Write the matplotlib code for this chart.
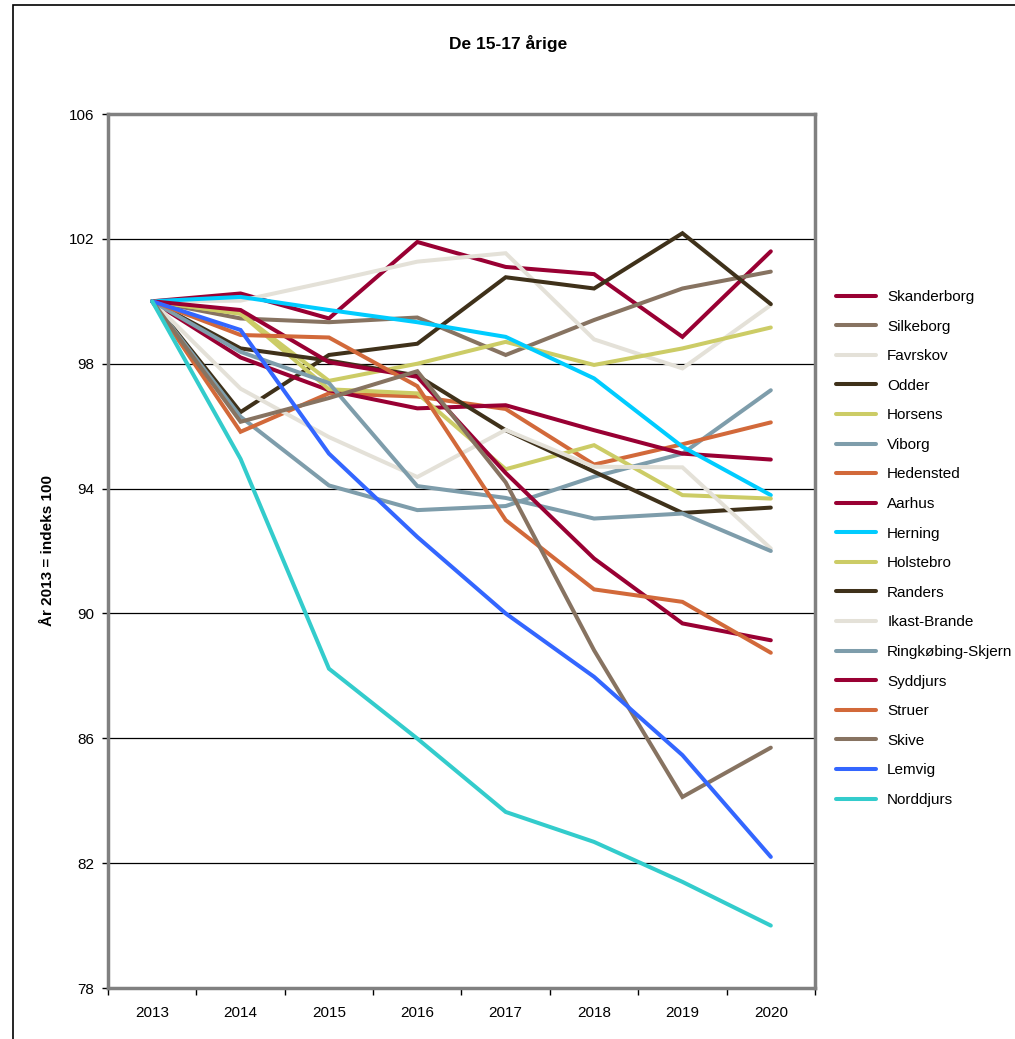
import matplotlib
matplotlib.use("Agg")
import matplotlib.pyplot as plt
import matplotlib.patches as mpatches
import numpy as np

plt.rcParams['font.family'] = ['Liberation Sans', 'DejaVu Sans']

years = ["2013", "2014", "2015", "2016", "2017", "2018", "2019", "2020"]

skanderborg = [100, 100.25, 99.45, 101.90, 101.10, 100.87, 98.86, 101.60]
silkeborg   = [100, 99.45, 99.33, 99.48, 98.28, 99.40, 100.41, 100.95]
favrskov    = [100, 100.02, 100.63, 101.27, 101.54, 98.78, 97.85, 99.88]
odder       = [100, 96.45, 98.28, 98.64, 100.77, 100.41, 102.18, 99.91]
horsens     = [100, 99.61, 97.45, 98.00, 98.70, 97.96, 98.49, 99.16]
viborg      = [100, 96.30, 94.10, 93.31, 93.44, 94.38, 95.12, 97.15]
hedensted   = [100, 95.82, 97.05, 96.95, 96.55, 94.77, 95.42, 96.12]
aarhus      = [100, 98.20, 97.15, 96.57, 96.67, 95.87, 95.12, 94.93]
herning     = [100, 100.14, 99.72, 99.33, 98.86, 97.53, 95.34, 93.79]
holstebro   = [100, 99.60, 97.18, 97.05, 94.62, 95.39, 93.79, 93.68]
randers     = [100, 98.49, 98.10, 97.62, 95.87, 94.54, 93.22, 93.39]
ikast       = [100, 97.20, 95.65, 94.37, 95.88, 94.70, 94.68, 92.08]
ringkobing  = [100, 98.38, 97.38, 94.08, 93.70, 93.04, 93.20, 92.00]
syddjurs    = [100, 99.72, 98.05, 97.58, 94.50, 91.76, 89.68, 89.14]
struer      = [100, 98.92, 98.84, 97.28, 92.99, 90.77, 90.37, 88.74]
skive       = [100, 96.14, 96.90, 97.76, 94.20, 88.82, 84.12, 85.70]
lemvig      = [100, 99.08, 95.12, 92.45, 90.00, 87.97, 85.46, 82.20]
norddjurs   = [100, 94.95, 88.23, 85.99, 83.64, 82.68, 81.40, 80.00]

names = ["Skanderborg", "Silkeborg", "Favrskov", "Odder", "Horsens", "Viborg",
         "Hedensted", "Aarhus", "Herning", "Holstebro", "Randers", "Ikast-Brande",
         "Ringkøbing-Skjern", "Syddjurs", "Struer", "Skive", "Lemvig", "Norddjurs"]
series = [skanderborg, silkeborg, favrskov, odder, horsens, viborg, hedensted,
          aarhus, herning, holstebro, randers, ikast, ringkobing, syddjurs,
          struer, skive, lemvig, norddjurs]

c_red = "#990033"; c_brown = "#877361"; c_lgrey = "#E4E1D8"; c_dark = "#3F311A"
c_yel = "#CCCC66"; c_gb = "#7E9DAB"; c_or = "#D2693A"
colors = [c_red, c_brown, c_lgrey, c_dark, c_yel, c_gb, c_or, c_red, "#00CCFF",
          c_yel, c_dark, c_lgrey, c_gb, c_red, c_or, c_brown, "#3366FF", "#33CCCC"]

W, H = 1015, 1039
fig = plt.figure(figsize=(W / 100, H / 100), dpi=100)
ax = fig.add_axes([108 / W, 1 - 988 / H, 707 / W, 874 / H])

x = np.arange(len(years))
for name, s, c in zip(names, series, colors):
    ax.plot(x, s, color=c, lw=2.9, label=name, solid_capstyle='round',
            solid_joinstyle='miter')

ax.set_xlim(-0.5, len(years) - 0.5)
ax.set_ylim(78, 106)
ax.set_yticks(np.arange(78, 107, 4))
ax.yaxis.grid(True, color="#000000", lw=0.9)
ax.set_axisbelow(True)
ax.tick_params(axis='y', labelsize=11, length=4, width=1, color='black', pad=6)

ax.set_xticks(np.arange(-0.5, len(years), 1.0))
ax.set_xticklabels([])
ax.set_xticks(x, minor=True)
ax.set_xticklabels(years, minor=True)
ax.tick_params(axis='x', which='major', length=5, width=1, color='black')
ax.tick_params(axis='x', which='minor', length=0, labelsize=11, pad=13)

for sp in ax.spines.values():
    sp.set_color("#808080")
    sp.set_linewidth(2.5)

ax.set_ylabel("År 2013 = indeks 100", fontsize=11, fontweight='bold', labelpad=10)
fig.text(508 / W, 1 - 44 / H, "De 15-17 årige", ha='center', va='center',
         fontsize=12.5, fontweight='bold')

leg = ax.legend(loc='upper left', bbox_to_anchor=(836 / W, 1 - 290 / H),
                bbox_transform=fig.transFigure, frameon=False, fontsize=11,
                handlelength=2.6, handletextpad=0.75, labelspacing=1.02,
                borderpad=0, borderaxespad=0)

fig.patches.append(mpatches.Rectangle((13 / W, -0.05), 1.2, 1 - 5 / H + 0.05,
                                      transform=fig.transFigure, fill=False,
                                      edgecolor='black', lw=1.2))

fig.savefig("out.png", dpi=100)
